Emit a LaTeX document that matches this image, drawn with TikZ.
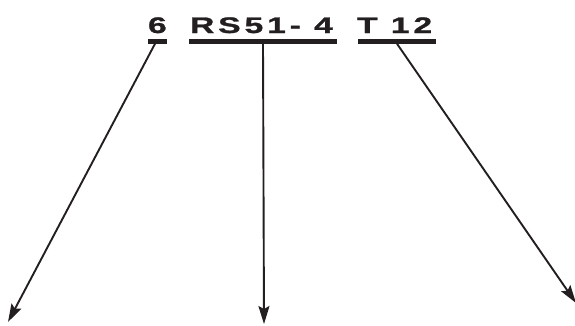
\documentclass[tikz,border=0pt]{standalone}
\usepackage{fontspec}
\setmainfont{Liberation Sans}[FakeStretch=1.5,LetterSpace=17,FakeBold=1.2]
\usetikzlibrary{arrows.meta}
\definecolor{ink}{HTML}{231F20}
\begin{document}
\begin{tikzpicture}[x=1pt,y=-1pt,
    code/.style={anchor=base west,inner sep=0pt,outer sep=0pt,font=\fontsize{22.5}{24}\selectfont\bfseries,text=ink},
    bar/.style={fill=ink,rectangle,inner sep=0pt,outer sep=0pt,minimum height=4.5pt},
    pointer/.style={draw=ink,line width=1.9pt,-{Stealth[length=18pt,width=11pt,inset=3pt]}}]
    \useasboundingbox (0,0) rectangle (575,325);
    % designation text
    \node[code] (num) at (148,33) {6};
    \node[code] (series) at (190,33) {RS51- 4};
    \node[code] (suffix) at (357,33) {T 12};
    % underlines
    \node[bar,minimum width=19pt] (b1) at (157.5,41.5) {};
    \node[bar,minimum width=148pt] (b2) at (263,41.5) {};
    \node[bar,minimum width=78pt] (b3) at (397,41.5) {};
    % arrow ends
    \coordinate (e1) at (8,322);
    \coordinate (e2) at (264,324);
    \coordinate (e3) at (576,303);
    \draw[pointer] ([xshift=-2.5pt]b1.south) -- (e1);
    \draw[pointer] (b2.south) -- (e2);
    \draw[pointer] (b3.south) -- (e3);
\end{tikzpicture}
\end{document}
